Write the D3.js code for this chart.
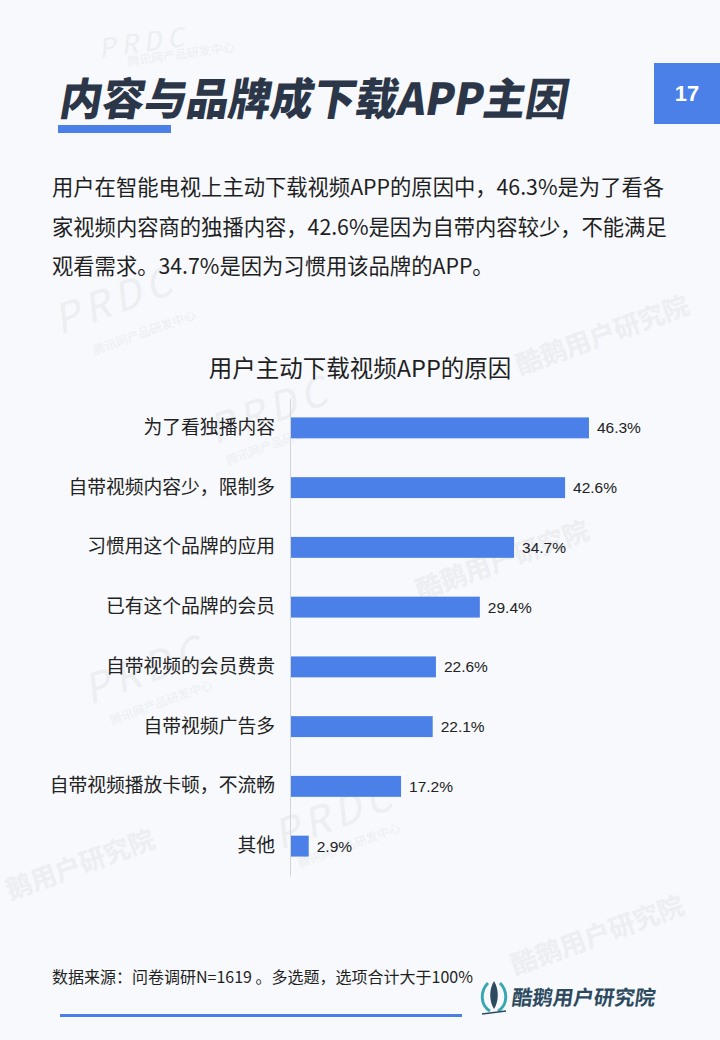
<!DOCTYPE html>
<html>
<head>
<meta charset="utf-8">
<script src="https://cdn.jsdelivr.net/npm/d3@7/dist/d3.min.js"></script>
<style>
html,body{margin:0;padding:0;background:#f7f9fc;}
svg{display:block;}
</style>
</head>
<body>
<svg id="chart" width="720" height="1040"></svg>
<script>
const categories = ["为了看独播内容","自带视频内容少，限制多","习惯用这个品牌的应用","已有这个品牌的会员","自带视频的会员费贵","自带视频广告多","自带视频播放卡顿，不流畅","其他"];
const values = [46.3, 42.6, 34.7, 29.4, 22.6, 22.1, 17.2, 2.9];
const valueLabels = ["46.3%","42.6%","34.7%","29.4%","22.6%","22.1%","17.2%","2.9%"];
const pageTitle = "内容与品牌成下载APP主因";
const pageNumber = "17";
const paragraph = ["用户在智能电视上主动下载视频APP的原因中，46.3%是为了看各","家视频内容商的独播内容，42.6%是因为自带内容较少，不能满足","观看需求。34.7%是因为习惯用该品牌的APP。"];
const chartTitle = "用户主动下载视频APP的原因";
const sourceNote = "数据来源：问卷调研N=1619 。多选题，选项合计大于100%";
const brand = "酷鹅用户研究院";

const svg = d3.select("#chart");
const FONT = "'Noto Sans CJK SC','Noto Sans',sans-serif";
const BLUE = "#4a80e8";

svg.append("rect").attr("width",720).attr("height",1040).attr("fill","#f7f9fc");

// faint watermarks (kept inside the page)
const wm = svg.append("g").attr("fill","#eceef2").attr("font-family",FONT);
[[100,58,"PRDC",26,-8],[60,335,"PRDC",40,-20],[215,445,"PRDC",40,-20],[90,705,"PRDC",40,-20],[280,850,"PRDC",40,-20]].forEach(d=>{
  wm.append("text").attr("transform",`translate(${d[0]},${d[1]}) rotate(${d[4]})`).attr("font-size",d[3]).attr("font-style","italic").attr("letter-spacing",6).text(d[2]);
});
[[128,66,"腾讯网产品研发中心",-8],[95,355,"腾讯网产品研发中心",-20],[228,465,"腾讯网产品研发中心",-20],[112,725,"腾讯网产品研发中心",-20],[300,868,"腾讯网产品研发中心",-20]].forEach(d=>{
  wm.append("text").attr("transform",`translate(${d[0]},${d[1]}) rotate(${d[3]})`).attr("font-size",12).text(d[2]);
});
[[520,375,"酷鹅用户研究院"],[420,600,"酷鹅用户研究院"],[10,900,"鹅用户研究院"],[515,975,"酷鹅用户研究院"]].forEach(d=>{
  wm.append("text").attr("transform",`translate(${d[0]},${d[1]}) rotate(-20)`).attr("font-size",26).attr("font-weight",700).text(d[2]);
});

// page title
svg.append("text").attr("transform","translate(58,115) skewX(-10)")
  .attr("font-family",FONT).attr("font-weight",900).attr("font-size",44)
  .attr("fill","#2b3748").attr("textLength",508).attr("lengthAdjust","spacingAndGlyphs").text(pageTitle);
svg.append("rect").attr("x",58).attr("y",125).attr("width",113).attr("height",8).attr("fill",BLUE);

// page number
svg.append("rect").attr("x",654).attr("y",63).attr("width",66).attr("height",61).attr("fill",BLUE);
svg.append("text").attr("x",687).attr("y",101).attr("text-anchor","middle")
  .attr("font-family","'Liberation Sans',Arial,sans-serif").attr("font-weight",700).attr("font-size",22)
  .attr("fill","#fff").text(pageNumber);

// paragraph
svg.append("g").selectAll("text").data(paragraph).join("text")
  .attr("x",52).attr("y",(d,i)=>195+i*39.5)
  .attr("font-family",FONT).attr("font-size",21.3).attr("fill","#1f1f1f").text(d=>d);

// chart title
svg.append("text").attr("x",360).attr("y",377).attr("text-anchor","middle")
  .attr("font-family",FONT).attr("font-size",23.5).attr("fill","#1f1f1f").text(chartTitle);

// scales
const x = d3.scaleLinear().domain([0,50]).range([290, 290 + 6.457*50]);
const y = d3.scaleBand().domain(categories).range([398, 876]).paddingInner(0.65).paddingOuter(0.325);

// bars
svg.append("g").selectAll("rect").data(values).join("rect")
  .attr("x",x(0)).attr("y",(d,i)=>y(categories[i]))
  .attr("width",d=>x(d)-x(0)).attr("height",y.bandwidth()).attr("fill",BLUE);

// axis
const axis = svg.append("g").attr("transform",`translate(${x(0)},0)`)
  .call(d3.axisLeft(y).tickSize(0).tickPadding(15));
axis.select(".domain").attr("stroke","#d0d3d8").attr("stroke-width",1);
axis.selectAll("text").attr("font-family",FONT).attr("font-size",18.8).attr("fill","#222");

// value labels
svg.append("g").selectAll("text").data(values).join("text")
  .attr("x",d=>x(d)+8).attr("y",(d,i)=>y(categories[i])+y.bandwidth()/2)
  .attr("dy","0.36em").attr("font-family","'Liberation Sans',Arial,sans-serif")
  .attr("font-size",15.5).attr("fill","#222").text((d,i)=>valueLabels[i]);

// footer
svg.append("text").attr("x",52).attr("y",983).attr("font-family",FONT).attr("font-size",16)
  .attr("fill","#1f1f1f").text(sourceNote);
svg.append("rect").attr("x",60).attr("y",1014).attr("width",402).attr("height",3).attr("fill",BLUE);

// logo
const logo = svg.append("g").attr("transform","translate(494,997)");
logo.append("path").attr("d","M-6,-14 C-14,-6 -14,8 -4,14").attr("fill","none").attr("stroke","#3aa6b0").attr("stroke-width",3);
logo.append("path").attr("d","M6,-14 C14,-6 14,8 4,14").attr("fill","none").attr("stroke","#3aa6b0").attr("stroke-width",3);
logo.append("path").attr("d","M0,-16 C-6,-6 -4,6 0,12 C4,6 6,-6 0,-16Z").attr("fill","#2d4a5e");
logo.append("path").attr("d","M-12,17 L12,14").attr("stroke","#2d4a5e").attr("stroke-width",1.5);
svg.append("text").attr("transform","translate(511,1005) skewX(-8)")
  .attr("font-family",FONT).attr("font-weight",700).attr("font-size",20.5)
  .attr("fill","#2d4a5e").text(brand);
</script>
</body>
</html>
